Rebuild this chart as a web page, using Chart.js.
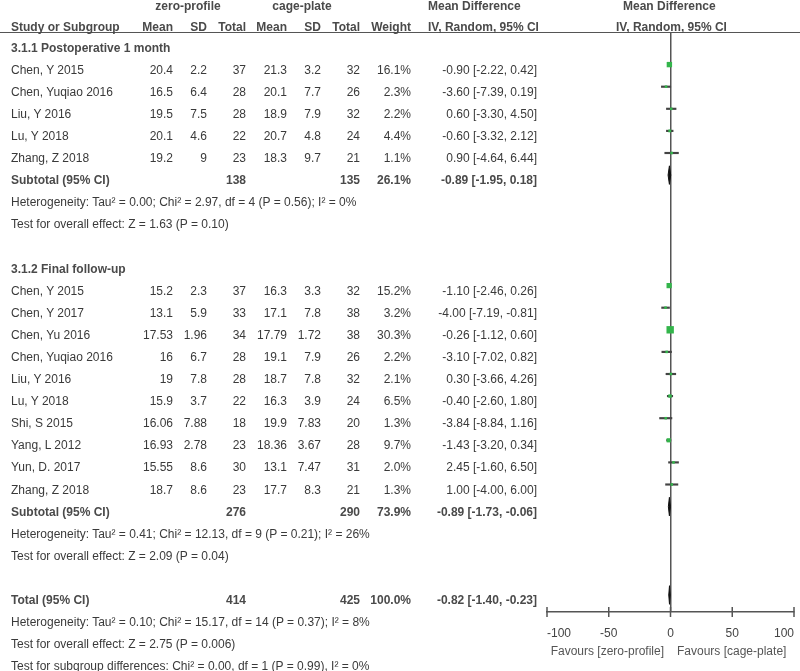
<!DOCTYPE html>
<html>
<head>
<meta charset="utf-8">
<script src="https://cdn.jsdelivr.net/npm/chart.js@4.4.1/dist/chart.umd.min.js"></script>
<style>
    body { margin: 0; background: #fff; }
    #wrap { position: relative; width: 800px; height: 671px; overflow: hidden;
            font-family: "Liberation Sans", Arial, sans-serif; font-size: 12px; color: #3a3a3a; }
    #chart { position: absolute; left: 0; top: 0; }
    .t { position: absolute; height: 16px; line-height: 16px; white-space: nowrap; }
    .b { font-weight: bold; color: #4a4a4a; }
    .fav { color: #555; }
    #rule { position: absolute; left: 0; top: 32px; width: 800px; border-top: 1.5px solid #555; }
</style>
</head>
<body>
<div id="wrap">
    <canvas id="chart" width="800" height="671"></canvas>
    <div id="rule"></div>
</div>

<script>
// 3.1.1 Postoperative 1 month
const studies1 = ["Chen, Y 2015", "Chen, Yuqiao 2016", "Liu, Y 2016", "Lu, Y 2018", "Zhang, Z 2018"];
const zpMean1 = [20.4, 16.5, 19.5, 20.1, 19.2];
const zpSD1 = [2.2, 6.4, 7.5, 4.6, 9];
const zpN1 = [37, 28, 28, 22, 23];
const cpMean1 = [21.3, 20.1, 18.9, 20.7, 18.3];
const cpSD1 = [3.2, 7.7, 7.9, 4.8, 9.7];
const cpN1 = [32, 26, 32, 24, 21];
const weight1 = [16.1, 2.3, 2.2, 4.4, 1.1];
const md1 = [-0.90, -3.60, 0.60, -0.60, 0.90];
const lo1 = [-2.22, -7.39, -3.30, -3.32, -4.64];
const hi1 = [0.42, 0.19, 4.50, 2.12, 6.44];

// 3.1.2 Final follow-up
const studies2 = ["Chen, Y 2015", "Chen, Y 2017", "Chen, Yu 2016", "Chen, Yuqiao 2016", "Liu, Y 2016",
                  "Lu, Y 2018", "Shi, S 2015", "Yang, L 2012", "Yun, D. 2017", "Zhang, Z 2018"];
const zpMean2 = [15.2, 13.1, 17.53, 16, 19, 15.9, 16.06, 16.93, 15.55, 18.7];
const zpSD2 = [2.3, 5.9, 1.96, 6.7, 7.8, 3.7, 7.88, 2.78, 8.6, 8.6];
const zpN2 = [37, 33, 34, 28, 28, 22, 18, 23, 30, 23];
const cpMean2 = [16.3, 17.1, 17.79, 19.1, 18.7, 16.3, 19.9, 18.36, 13.1, 17.7];
const cpSD2 = [3.3, 7.8, 1.72, 7.9, 7.8, 3.9, 7.83, 3.67, 7.47, 8.3];
const cpN2 = [32, 38, 38, 26, 32, 24, 20, 28, 31, 21];
const weight2 = [15.2, 3.2, 30.3, 2.2, 2.1, 6.5, 1.3, 9.7, 2.0, 1.3];
const md2 = [-1.10, -4.00, -0.26, -3.10, 0.30, -0.40, -3.84, -1.43, 2.45, 1.00];
const lo2 = [-2.46, -7.19, -1.12, -7.02, -3.66, -2.60, -8.84, -3.20, -1.60, -4.00];
const hi2 = [0.26, -0.81, 0.60, 0.82, 4.26, 1.80, 1.16, 0.34, 6.50, 6.00];

// pooled estimates: subtotal 1, subtotal 2, total
const pooledLabel = ["Subtotal (95% CI)", "Subtotal (95% CI)", "Total (95% CI)"];
const pooledZpN = [138, 276, 414];
const pooledCpN = [135, 290, 425];
const pooledWeight = [26.1, 73.9, 100.0];
const pooledMd = [-0.89, -0.89, -0.82];
const pooledLo = [-1.95, -1.73, -1.40];
const pooledHi = [0.18, -0.06, -0.23];

const groupTitles = ["3.1.1 Postoperative 1 month", "3.1.2 Final follow-up"];
const statLines1 = ["Heterogeneity: Tau² = 0.00; Chi² = 2.97, df = 4 (P = 0.56); I² = 0%",
                    "Test for overall effect: Z = 1.63 (P = 0.10)"];
const statLines2 = ["Heterogeneity: Tau² = 0.41; Chi² = 12.13, df = 9 (P = 0.21); I² = 26%",
                    "Test for overall effect: Z = 2.09 (P = 0.04)"];
const statLinesTotal = ["Heterogeneity: Tau² = 0.10; Chi² = 15.17, df = 14 (P = 0.37); I² = 8%",
                        "Test for overall effect: Z = 2.75 (P = 0.006)",
                        "Test for subgroup differences: Chi² = 0.00, df = 1 (P = 0.99), I² = 0%"];

const xTicks = [-100, -50, 0, 50, 100];

// layout
const ROW_H = 22.1;
const TEXT_Y0 = 47.5;
const MARK_Y0 = 42.5;
const col = { label: 11, m1: 173, sd1: 207, n1: 246, m2: 287, sd2: 321, n2: 360, w: 411, ci: 537 };

const wrap = document.getElementById("wrap");

function put(text, x, y, align, cls) {
    const d = document.createElement("div");
    d.className = "t" + (cls ? " " + cls : "");
    d.textContent = text;
    if (align === "right") {
        d.style.left = (x - 300) + "px";
        d.style.width = "300px";
        d.style.textAlign = "right";
    } else if (align === "center") {
        d.style.left = (x - 150) + "px";
        d.style.width = "300px";
        d.style.textAlign = "center";
    } else {
        d.style.left = x + "px";
    }
    d.style.top = (y - 8) + "px";
    wrap.appendChild(d);
}

const ciText = (m, l, h) => `${m.toFixed(2)} [${l.toFixed(2)}, ${h.toFixed(2)}]`;
const textY = row => TEXT_Y0 + ROW_H * row;

// header
put("zero-profile", 188, 6, "center", "b");
put("cage-plate", 302, 6, "center", "b");
put("Mean Difference", 428, 6, "left", "b");
put("Mean Difference", 623, 6, "left", "b");
put("Study or Subgroup", col.label, 27, "left", "b");
put("Mean", col.m1, 27, "right", "b");
put("SD", col.sd1, 27, "right", "b");
put("Total", col.n1, 27, "right", "b");
put("Mean", col.m2, 27, "right", "b");
put("SD", col.sd2, 27, "right", "b");
put("Total", col.n2, 27, "right", "b");
put("Weight", col.w, 27, "right", "b");
put("IV, Random, 95% CI", 428, 27, "left", "b");
put("IV, Random, 95% CI", 616, 27, "left", "b");

const groups = [
    { start: 0, names: studies1, zm: zpMean1, zs: zpSD1, zn: zpN1, cm: cpMean1, cs: cpSD1, cn: cpN1,
      w: weight1, md: md1, lo: lo1, hi: hi1, stats: statLines1 },
    { start: 10, names: studies2, zm: zpMean2, zs: zpSD2, zn: zpN2, cm: cpMean2, cs: cpSD2, cn: cpN2,
      w: weight2, md: md2, lo: lo2, hi: hi2, stats: statLines2 }
];

const whiskers = [];
const squares = [];
const squareSize = [];
const pooledRows = [];

groups.forEach((g, gi) => {
    put(groupTitles[gi], col.label, textY(g.start), "left", "b");
    g.names.forEach((name, i) => {
        const row = g.start + 1 + i;
        const y = textY(row);
        put(name, col.label, y, "left");
        put(String(g.zm[i]), col.m1, y, "right");
        put(String(g.zs[i]), col.sd1, y, "right");
        put(String(g.zn[i]), col.n1, y, "right");
        put(String(g.cm[i]), col.m2, y, "right");
        put(String(g.cs[i]), col.sd2, y, "right");
        put(String(g.cn[i]), col.n2, y, "right");
        put(g.w[i].toFixed(1) + "%", col.w, y, "right");
        put(ciText(g.md[i], g.lo[i], g.hi[i]), col.ci, y, "right");
        whiskers.push({ x: [g.lo[i], g.hi[i]], y: row });
        squares.push({ x: g.md[i], y: row });
        squareSize.push(Math.max(1.8, 0.95 * Math.sqrt(g.w[i])));
    });
    const subRow = g.start + 1 + g.names.length;
    pooledRows.push(subRow);
    g.stats.forEach((s, k) => put(s, col.label, textY(subRow + 1 + k), "left"));
});
pooledRows.push(25);
statLinesTotal.forEach((s, k) => put(s, col.label, textY(26 + k), "left"));

pooledRows.forEach((row, p) => {
    const y = textY(row);
    put(pooledLabel[p], col.label, y, "left", "b");
    put(String(pooledZpN[p]), col.n1, y, "right", "b");
    put(String(pooledCpN[p]), col.n2, y, "right", "b");
    put(pooledWeight[p].toFixed(1) + "%", col.w, y, "right", "b");
    put(ciText(pooledMd[p], pooledLo[p], pooledHi[p]), col.ci, y, "right", "b");
});

put("Favours [zero-profile]", 664, 651, "right", "fav");
put("Favours [cage-plate]", 677, 651, "left", "fav");

const diamondSets = pooledRows.map((row, p) => ({
    type: "line",
    data: [
        { x: pooledLo[p], y: row },
        { x: pooledMd[p], y: row - 0.42 },
        { x: pooledHi[p], y: row },
        { x: pooledMd[p], y: row + 0.42 },
        { x: pooledLo[p], y: row }
    ],
    borderColor: "#111",
    backgroundColor: "#111",
    borderWidth: 1,
    pointRadius: 0,
    fill: "shape",
    tension: 0,
    order: 0
}));

const tickMarks = {
    id: "tickMarks",
    afterDraw(chart) {
        const s = chart.scales.x;
        const ctx = chart.ctx;
        ctx.save();
        ctx.strokeStyle = "#555";
        ctx.lineWidth = 1.5;
        s.ticks.forEach(t => {
            const x = s.getPixelForValue(t.value);
            ctx.beginPath();
            ctx.moveTo(x, s.top - 5);
            ctx.lineTo(x, s.top + 5);
            ctx.stroke();
        });
        ctx.restore();
    }
};

const ctx = document.getElementById("chart").getContext("2d");
new Chart(ctx, {
    type: "scatter",
    data: {
        datasets: [
            {
                type: "bar",
                indexAxis: "y",
                data: whiskers,
                backgroundColor: "#444",
                barThickness: 1.5,
                order: 2
            },
            {
                type: "scatter",
                data: squares,
                pointStyle: "rect",
                pointRadius: squareSize,
                backgroundColor: "#33b54b",
                borderWidth: 0,
                order: 1
            },
            ...diamondSets
        ]
    },
    options: {
        responsive: false,
        animation: false,
        layout: { padding: { left: 547, right: 6, top: 33, bottom: 0 } },
        plugins: {
            legend: { display: false },
            tooltip: { enabled: false }
        },
        scales: {
            x: {
                type: "linear",
                position: "bottom",
                min: -100,
                max: 100,
                offset: false,
                afterBuildTicks: scale => { scale.ticks = xTicks.map(v => ({ value: v })); },
                afterFit: scale => {
                    scale.height = 59;
                    scale.paddingLeft = 0;
                    scale.paddingRight = 0;
                },
                ticks: {
                    color: "#444",
                    padding: 14,
                    maxRotation: 0,
                    align: "inner",
                    font: { family: "Liberation Sans, Arial, sans-serif", size: 12 }
                },
                grid: {
                    drawTicks: false,
                    offset: false,
                    color: c => (c.tick && c.tick.value === 0) ? "#555" : "rgba(0,0,0,0)",
                    lineWidth: 1.5
                },
                border: { display: true, color: "#555", width: 1.5 }
            },
            y: {
                type: "linear",
                display: false,
                reverse: true,
                offset: false,
                grid: { offset: false },
                min: (33 - MARK_Y0) / ROW_H,
                max: (612 - MARK_Y0) / ROW_H
            }
        }
    },
    plugins: [tickMarks]
});
</script>
</body>
</html>
